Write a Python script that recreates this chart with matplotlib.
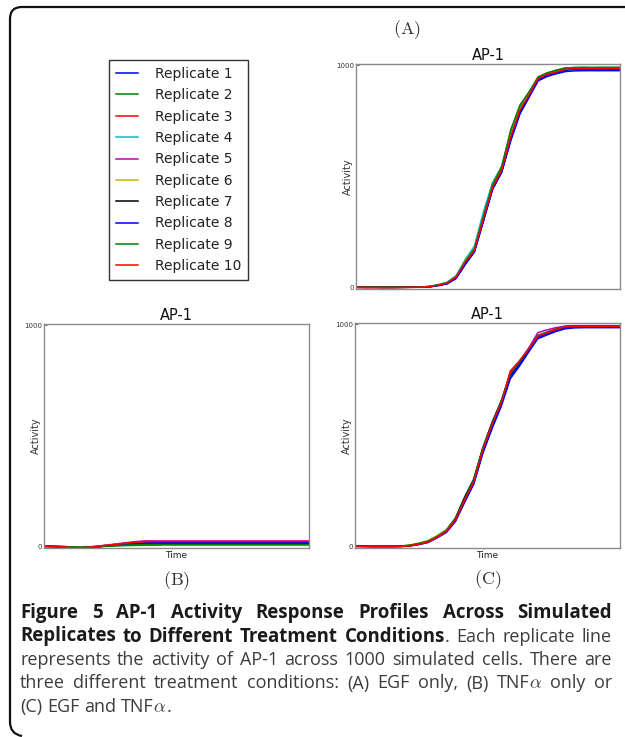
import matplotlib
matplotlib.use("Agg")
from matplotlib import pyplot as plt
from matplotlib.path import Path
from matplotlib.patches import PathPatch

W, H = 625, 737

time = list(range(30))
labels = ["Replicate %d" % i for i in range(1, 11)]
colours = ['b', 'g', 'r', 'c', 'm', 'y', 'k', 'b', 'g', 'r']

# (A) EGF only
egf_only = [
    [0, -1, -1, -1, -1, 0, 0, 1, 3, 8,
     16, 40, 105, 160, 300, 445, 520, 665, 785, 858,
     930, 950, 962, 972, 975, 976, 976, 976, 976, 976],
    [0, 0, 0, 0, 0, 0, 1, 1, 3, 10,
     21, 50, 120, 175, 325, 470, 545, 700, 815, 875,
     945, 965, 978, 988, 990, 990, 989, 990, 990, 990],
    [-2, -2, -2, -2, -2, -1, -1, 0, 2, 9,
     19, 45, 112, 165, 308, 450, 530, 680, 795, 868,
     940, 958, 971, 983, 986, 987, 987, 987, 987, 987],
    [0, 0, 0, 0, 0, 0, 0, 1, 3, 11,
     22, 52, 125, 185, 340, 470, 540, 690, 805, 870,
     944, 960, 972, 984, 986, 986, 986, 986, 986, 986],
    [0, 0, 0, 0, 0, 0, 0, 0, 1, 8,
     18, 44, 110, 165, 305, 448, 525, 675, 795, 866,
     942, 961, 973, 984, 987, 988, 988, 988, 988, 988],
    [0, 0, 0, 0, 0, 0, 0, 1, 2, 9,
     20, 48, 118, 170, 315, 455, 528, 680, 800, 868,
     938, 958, 971, 983, 985, 986, 986, 986, 986, 986],
    [0, 0, 0, -1, -1, -1, 0, 0, 2, 8,
     17, 43, 108, 162, 305, 445, 520, 670, 790, 860,
     935, 955, 968, 980, 983, 984, 984, 984, 984, 984],
    [0, 0, 0, 0, 0, 0, 0, 0, 1, 7,
     15, 40, 102, 158, 298, 440, 518, 660, 780, 855,
     932, 952, 966, 978, 982, 983, 983, 983, 983, 983],
    [0, 0, 0, 0, 0, 0, 0, 1, 3, 10,
     20, 48, 116, 172, 320, 460, 540, 710, 820, 880,
     948, 966, 978, 988, 990, 991, 991, 991, 991, 991],
    [0, -1, -1, -1, -1, -1, 0, 0, 2, 9,
     19, 46, 113, 166, 310, 450, 527, 678, 798, 866,
     941, 959, 970, 982, 985, 986, 986, 986, 986, 986],
]

# (B) TNFa only
tnf_only = [
    [0, -1, -3, -5, -7, -5, -2, 2, 5, 8,
     11, 13, 14, 15, 15, 15, 15, 15, 15, 15,
     15, 15, 15, 15, 15, 15, 15, 15, 15, 15],
    [0, 0, -1, -3, -5, -4, -2, 0, 2, 3,
     4, 5, 5, 6, 6, 6, 6, 6, 6, 6,
     6, 6, 6, 6, 6, 6, 6, 6, 6, 6],
    [-2, -3, -4, -6, -7, -4, 0, 5, 9, 13,
     17, 19, 20, 21, 21, 21, 21, 21, 21, 21,
     21, 21, 21, 21, 21, 21, 21, 21, 21, 21],
    [0, -1, -3, -5, -6, -3, 0, 4, 8, 12,
     15, 17, 18, 18, 18, 18, 18, 18, 18, 18,
     18, 18, 18, 18, 18, 18, 18, 18, 18, 18],
    [0, -1, -3, -6, -7, -3, 1, 6, 11, 16,
     21, 24, 24, 23, 23, 23, 23, 23, 23, 23,
     23, 23, 23, 23, 23, 23, 23, 23, 23, 23],
    [0, -1, -2, -5, -6, -3, 0, 4, 8, 12,
     16, 18, 19, 19, 19, 19, 19, 19, 19, 19,
     19, 19, 19, 19, 19, 19, 19, 19, 19, 19],
    [0, -1, -3, -6, -7, -5, -2, 2, 5, 8,
     11, 13, 14, 14, 14, 14, 14, 14, 14, 14,
     14, 14, 14, 14, 14, 14, 14, 14, 14, 14],
    [0, -1, -3, -5, -6, -4, -1, 3, 6, 9,
     12, 14, 15, 16, 16, 16, 16, 16, 16, 16,
     16, 16, 16, 16, 16, 16, 16, 16, 16, 16],
    [0, 0, -1, -3, -5, -4, -2, 1, 3, 5,
     6, 7, 8, 8, 8, 8, 8, 8, 8, 8,
     8, 8, 8, 8, 8, 8, 8, 8, 8, 8],
    [-1, -2, -3, -6, -7, -4, 0, 5, 9, 14,
     18, 21, 22, 22, 22, 22, 22, 22, 22, 22,
     22, 22, 22, 22, 22, 22, 22, 22, 22, 22],
]

# (C) EGF and TNFa
egf_tnf = [
    [0, -1, -2, -2, -2, -1, 2, 8, 17, 38,
     62, 112, 198, 280, 420, 530, 630, 755, 812, 875,
     935, 952, 968, 980, 984, 985, 985, 985, 985, 985],
    [0, 0, -1, -1, -1, 0, 4, 11, 22, 45,
     72, 126, 218, 302, 445, 558, 655, 780, 832, 890,
     950, 965, 979, 990, 992, 992, 992, 992, 992, 992],
    [-2, -2, -3, -3, -3, -2, 1, 8, 18, 40,
     66, 118, 208, 290, 432, 546, 645, 790, 835, 890,
     946, 962, 976, 988, 990, 991, 991, 991, 991, 991],
    [0, 0, 0, 0, 0, 1, 5, 13, 24, 46,
     74, 128, 222, 305, 446, 556, 652, 776, 828, 886,
     946, 961, 976, 988, 991, 991, 991, 991, 991, 991],
    [0, 0, 0, 0, 0, 0, 3, 10, 20, 42,
     68, 120, 210, 293, 435, 548, 648, 775, 830, 892,
     962, 975, 985, 992, 994, 994, 994, 994, 994, 994],
    [0, 0, 0, 0, 0, 1, 6, 14, 26, 48,
     75, 124, 214, 296, 440, 552, 650, 772, 825, 885,
     945, 960, 975, 987, 990, 991, 991, 991, 991, 991],
    [0, 0, 0, 0, 0, 0, 3, 11, 21, 43,
     70, 125, 220, 300, 442, 555, 652, 770, 822, 884,
     946, 961, 976, 989, 991, 991, 991, 991, 991, 991],
    [0, 0, -1, -1, -1, 0, 2, 9, 19, 40,
     65, 115, 202, 285, 425, 538, 638, 765, 818, 880,
     940, 956, 972, 985, 988, 989, 989, 989, 989, 989],
    [0, 0, 0, 0, 0, 0, 4, 12, 23, 44,
     71, 122, 212, 298, 440, 552, 650, 777, 830, 889,
     949, 964, 978, 990, 992, 993, 993, 993, 993, 993],
    [0, -1, -1, -1, -1, -1, 2, 9, 19, 41,
     67, 119, 209, 292, 436, 549, 647, 785, 835, 888,
     947, 962, 977, 989, 991, 991, 991, 991, 991, 991],
]

plt.rcParams['mathtext.fontset'] = 'cm'

fig = plt.figure(figsize=(W / 100, H / 100), dpi=100)


def px_rect(left, top, right, bottom):
    return [left / W, 1 - bottom / H, (right - left) / W, (bottom - top) / H]


def draw_panel(rect, series, show_time=True):
    ax = fig.add_axes(rect)
    for vals, col, lab in zip(series, colours, labels):
        ax.plot(time, vals, color=col, lw=1.1, label=lab)
    ax.set_xlim(time[0], time[-1])
    ax.set_ylim(-8, 1006)
    ax.set_yticks([0, 1000])
    ax.set_xticks([])
    ax.tick_params(axis='y', direction='in', length=2.5, width=0.6,
                   labelsize=5, pad=1.5, colors='#555555', labelcolor='#333333')
    for sp in ax.spines.values():
        sp.set_color('#8a8a8a')
        sp.set_linewidth(1.0)
    ax.set_title("AP-1", fontsize=10.5, pad=3, color='#111111')
    ax.set_ylabel("Activity", fontsize=7, color='#333333')
    ax.yaxis.set_label_coords(-0.012, 0.5)
    if show_time:
        ax.set_xlabel("Time", fontsize=6.5, labelpad=2.5, color='#222222')
    return ax


ax_a = draw_panel(px_rect(356, 64, 620, 289), egf_only, show_time=False)
ax_b = draw_panel(px_rect(44, 324, 309, 548), tnf_only)
ax_c = draw_panel(px_rect(355, 323, 620, 548), egf_tnf)

handles, _ = ax_a.get_legend_handles_labels()
leg = fig.legend(handles, labels, loc='upper left',
                 bbox_to_anchor=(109 / W, 1 - 60 / H), bbox_transform=fig.transFigure,
                 borderaxespad=0, fontsize=10, fancybox=False, framealpha=1,
                 edgecolor='#333333', handlelength=1.6, handletextpad=1.2,
                 labelspacing=0.53, borderpad=0.5)
leg.get_frame().set_linewidth(1.0)
for t in leg.get_texts():
    t.set_color('#222222')

for txt, x, y in [("(A)", 407, 30), ("(B)", 177, 581), ("(C)", 488, 580)]:
    fig.text(x / W, 1 - y / H, r'$\mathrm{%s}$' % txt, ha='center', va='center',
             fontsize=13, color='#333333')

# rounded frame round the figure (open at right and bottom)
r = 12
verts = [(W + 5, 7), (10 + r, 7), (10, 7), (10, 7 + r), (10, 734 - r), (10, 734), (10 + r, 736)]
codes = [Path.MOVETO, Path.LINETO, Path.CURVE3, Path.CURVE3, Path.LINETO, Path.CURVE3, Path.CURVE3]
verts = [(x / W, 1 - y / H) for x, y in verts]
fig.add_artist(PathPatch(Path(verts, codes), fill=False, lw=1.6, ec='#111111',
                         transform=fig.transFigure))

# caption, justified word by word
CAP_FONT = ['Open Sans', 'DejaVu Sans']
CAP_SIZE = 13
CAP_BOLD_SIZE = 13.4
CAP_X0, CAP_X1 = 20, 612


def words(s, bold):
    return [[(w, bold)] for w in s.split()]


def caption_line(line, y, justify=True):
    rend = fig.canvas.get_renderer()
    placed = []
    total = 0
    for word in line:
        parts = []
        w = 0
        for txt, bold in word:
            t = fig.text(0, 0, txt, fontsize=CAP_BOLD_SIZE if bold else CAP_SIZE,
                         family=CAP_FONT, weight='bold' if bold else 'normal',
                         color='#1a1a1a' if bold else '#3c3c3c', va='baseline')
            parts.append((t, w))
            w += t.get_window_extent(rend).width
        placed.append((parts, w))
        total += w
    if justify:
        gap = (CAP_X1 - CAP_X0 - total) / (len(line) - 1)
    else:
        gap = CAP_SIZE * 100 / 72 * 0.26
    x = CAP_X0
    for parts, w in placed:
        for t, off in parts:
            t.set_position(((x + off) / W, 1 - y / H))
        x += w + gap


caption = [
    (words("Figure 5 AP-1 Activity Response Profiles Across Simulated", True), True),
    (words("Replicates to Different Treatment", True)
     + [[("Conditions", True), (".", False)]]
     + words("Each replicate line", False), True),
    (words("represents the activity of AP-1 across 1000 simulated cells. There are", False), True),
    (words("three different treatment conditions: (A) EGF only, (B)", False)
     + [[("TNF", False), (r"$\alpha$", False)]]
     + words("only or", False), True),
    (words("(C) EGF and", False) + [[("TNF", False), (r"$\alpha$", False), (".", False)]], False),
]
for i, (line, just) in enumerate(caption):
    caption_line(line, 618 + 23.5 * i, just)

fig.savefig("out.png", dpi=100)
